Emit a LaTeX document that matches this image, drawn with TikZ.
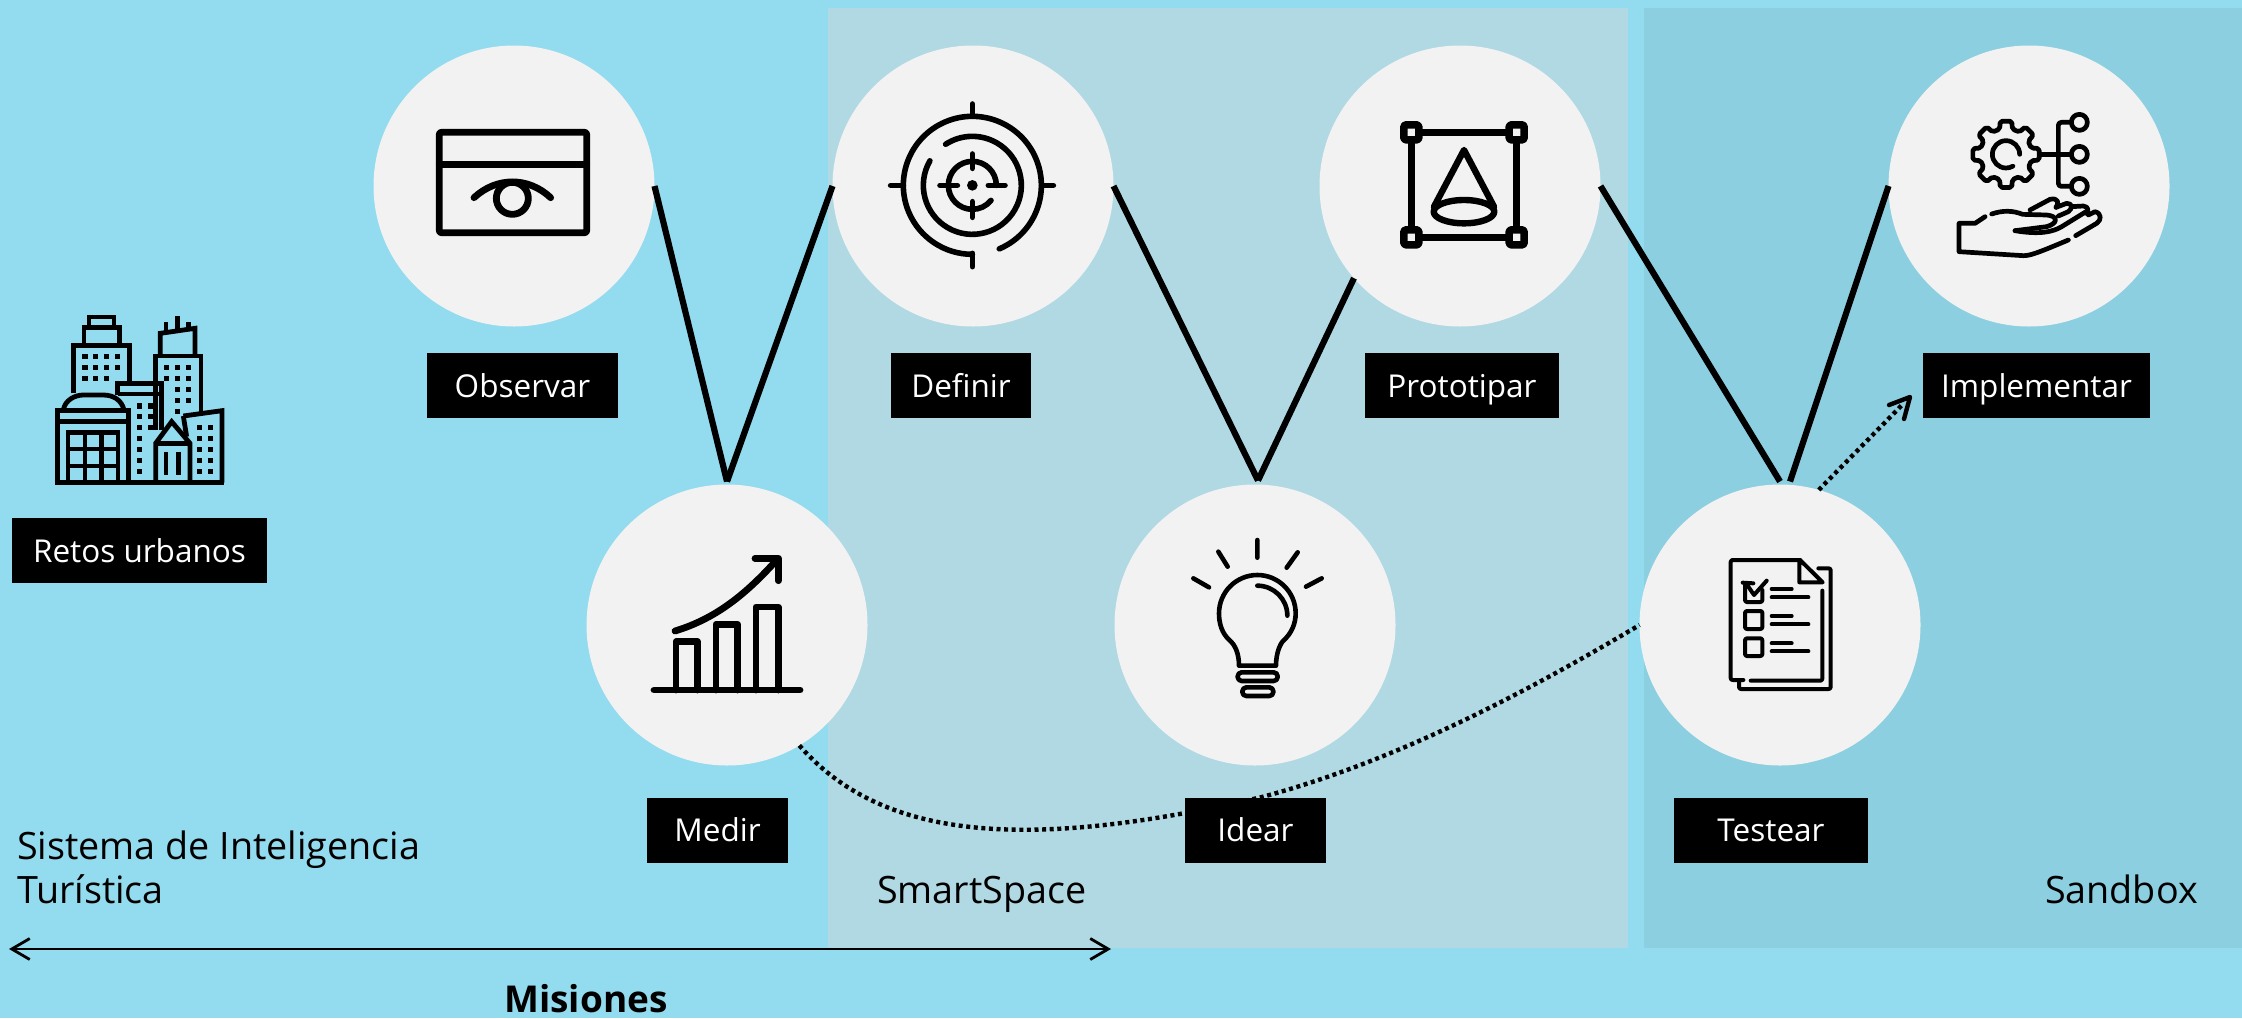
\documentclass[tikz,border=0pt]{standalone}
\usepackage{fontspec}
\setmainfont{Open Sans}
\usetikzlibrary{arrows.meta}
\definecolor{bgblue}{HTML}{93DBEE}
\definecolor{smartbg}{HTML}{B1D9E4}
\definecolor{sandbg}{HTML}{8CCFE0}
\definecolor{disc}{HTML}{F2F2F2}
\tikzset{
  stage/.style={circle,fill=disc,minimum size=281pt,inner sep=0pt,outer sep=0pt},
  lab/.style={fill=black,text=white,minimum height=65pt,text height=30pt,text depth=7pt,inner sep=0pt,outer sep=0pt,font=\fontsize{31.5}{36}\selectfont},
  captext/.style={text=black,inner sep=0pt,outer sep=0pt,font=\fontsize{37.7}{44}\selectfont},
  vline/.style={line width=6.2pt},
  dotline/.style={line width=4.4pt,dash pattern=on 4pt off 3.6pt},
  ico/.style={line width=#1,line cap=round,line join=round,draw=black},
  icon/.style={shift={#1},scale=0.33333},
  win/.style={fill=black,draw=none}
}
\begin{document}
\begin{tikzpicture}[x=1pt,y=1pt,yscale=-1]
\useasboundingbox (0,0) rectangle (2242,1018);
\fill[bgblue] (0,0) rectangle (2242,1018);
\fill[smartbg] (828,8) rectangle (1628,948);
\fill[sandbg] (1644,8) rectangle (2242,948);

% stages
\node[stage] (obs) at (514,186) {};
\node[stage] (def) at (973,186) {};
\node[stage] (pro) at (1460,186) {};
\node[stage] (imp) at (2029,186) {};
\node[stage] (med) at (727,625) {};
\node[stage] (ide) at (1255,625) {};
\node[stage] (tes) at (1780,625) {};

% connectors
\draw[vline] (obs.east) -- ([yshift=-3pt]med.north);
\draw[vline] (def.west) -- ([yshift=-3pt]med.north);
\draw[vline] (def.east) -- ([xshift=3pt,yshift=-4pt]ide.north);
\draw[vline] (pro.221) -- ([xshift=3pt,yshift=-4pt]ide.north);
\draw[vline] (pro.east) -- ([yshift=-3pt]tes.north);
\draw[vline] (imp.west) -- ([xshift=10pt,yshift=-3pt]tes.north);
\draw[dotline] (med.-59) .. controls (880,838) and (1020,853) .. (1262,797) .. controls (1400,760) and (1530,690) .. (tes.west);
\coordinate (tipimp) at (1910,397);
\draw[dotline] (tes.74) -- ([shift={(-7,7)}]tipimp);
\draw[line width=4.4pt,line cap=round,line join=round] (1889,405) -- (tipimp) -- (1904,419);
\coordinate (mleft) at (9,949);
\coordinate (mright) at (1111,949);
\draw[line width=2.8pt,{Straight Barb[length=18pt,width=21pt]}-{Straight Barb[length=18pt,width=21pt]}] (mleft) -- (mright);

% labels
\node[lab,minimum width=255pt] (lret) at (139.5,550.5) {Retos urbanos};
\node[lab,minimum width=191pt] (lobs) at (522.5,385.5) {Observar};
\node[lab,minimum width=140pt] (ldef) at (961,385.5) {Definir};
\node[lab,minimum width=194pt] (lpro) at (1462,385.5) {Prototipar};
\node[lab,minimum width=227pt] (limp) at (2036.5,385.5) {Implementar};
\node[lab,minimum width=141pt] (lmed) at (717.5,830) {Medir};
\node[lab,minimum width=141pt] (lide) at (1255.5,830) {Idear};
\node[lab,minimum width=194pt] (ltes) at (1771,830) {Testear};

\node[captext,anchor=base west,align=left] (tsis) at (17,903) {Sistema de Inteligencia\\Turística};
\node[captext,anchor=base west] (tsma) at (877,903) {SmartSpace};
\node[captext,anchor=base west] (tsan) at (2045,903) {Sandbox};
\node[captext,anchor=base,font=\fontsize{37}{44}\selectfont\bfseries] (tmis) at (586,1012) {Misiones};

% city
\begin{scope}[icon={(0,280)}]
\begin{scope}[ico=4.8pt,line cap=butt,line join=miter]
\draw (267,143) -- (267,111) -- (342,111) -- (342,143);
\draw (252,190) -- (252,143) -- (358,143) -- (358,190);
\draw (220,340) -- (220,197) -- (388,197) -- (388,310);
\draw (481,225) -- (481,160) -- (585,145) -- (585,225);
\draw (498,155) -- (498,125) (533,150) -- (533,108) (566,148) -- (566,125);
\draw (467,450) -- (467,228) -- (603,228) -- (603,398);
\draw (352,345) -- (352,310) -- (484,310) -- (484,450);
\draw (355,342) -- (478,342);
\draw (172,610) -- (172,392) -- (385,392) -- (385,610);
\draw (190,390) .. controls (195,360) and (225,345) .. (250,345) -- (310,345) .. controls (340,345) and (365,360) .. (372,390);
\draw (172,425) -- (385,425);
\draw (204,610) -- (204,458) -- (354,458) -- (354,610);
\draw (255,458) -- (255,610) (305,458) -- (305,610);
\draw (204,507) -- (354,507) (204,558) -- (354,558);
\draw (165,608) -- (672,608);
\draw (550,408) -- (666,392) -- (666,608);
\draw (550,408) -- (560,470);
\draw (467,608) -- (467,490) -- (515,425) -- (570,490) -- (570,608);
\draw (467,490) -- (570,490);
\draw (498,515) -- (498,585) (535,515) -- (535,585);
\end{scope}
\foreach \x in {255,287,320,352} \fill[win] (\x-8,222) rectangle ++(16,16);
\foreach \x in {255,287,320,352} \fill[win] (\x-8,255) rectangle ++(16,16);
\foreach \x in {255,287,320} \fill[win] (\x-8,288) rectangle ++(16,16);
\foreach \x in {500,533,566} \fill[win] (\x-8,255) rectangle ++(16,16);
\foreach \x in {500,533,566} \fill[win] (\x-8,288) rectangle ++(16,16);
\foreach \x in {533,566} \fill[win] (\x-8,320) rectangle ++(16,16);
\foreach \x in {533,566} \fill[win] (\x-8,353) rectangle ++(16,16);
\fill[win] (525,386) rectangle ++(16,16);
\foreach \y in {370,402,435} {\fill[win] (410,\y) rectangle ++(16,16); \fill[win] (443,\y) rectangle ++(16,16);}
\foreach \y in {468,501,534,567} \fill[win] (410,\y) rectangle ++(16,16);
\foreach \y in {435,468,501,534,567} {\fill[win] (590,\y) rectangle ++(16,16); \fill[win] (623,\y) rectangle ++(16,16);}
\end{scope}

% eye
\begin{scope}[icon={(400,80)}]
\draw[ico=6.8pt,rounded corners=2pt] (118,157) rectangle (560,458);
\draw[ico=6.8pt] (118,254) -- (560,254);
\draw[ico=6.8pt] (222,353) .. controls (290,290) and (385,290) .. (452,353);
\draw[ico=6.8pt] (337,355) circle[radius=48];
\end{scope}

% target
\begin{scope}[icon={(860,80)},ico=5.6pt]
\draw (337,316) ++(67:207) arc[start angle=67,end angle=-270,radius=207];
\draw (337,316) ++(-150:147) arc[start angle=-150,end angle=-483,radius=147];
\draw (337,316) ++(0:72) arc[start angle=0,end angle=-321,radius=72];
\draw (337,72) -- (337,105) (92,316) -- (130,316) (545,316) -- (580,316) (337,520) -- (337,560);
\draw (337,222) -- (337,265) (240,316) -- (292,316) (385,316) -- (435,316) (337,365) -- (337,412);
\fill (337,316) circle[radius=16];
\end{scope}

% prototype
\begin{scope}[icon={(1370,90)},ico=7.4pt]
\draw (124,127) rectangle (440,442);
\foreach \p in {(124,127),(440,127),(124,442),(440,442)}
  \draw[fill=disc,rounded corners=1.5pt,shift={\p}] (-22.5,-22.5) rectangle (22.5,22.5);
\draw[line width=6.4pt] (192,350) -- (282,180) -- (372,350);
\draw[line width=6.4pt] (282,365) ellipse[x radius=91,y radius=35];
\end{scope}

% gears and hand
\begin{scope}[icon={(1930,90)},ico=4.7pt]
\draw[shift={(228,193)},rounded corners=2pt] (-22.5:76) \foreach \a in {0,45,...,315} { -- (\a-14:78) -- (\a-10:101) -- (\a+10:101) -- (\a+14:78)} -- cycle;
\draw (269,193) arc[start angle=0,end angle=-300,radius=41];
\draw (335,193) -- (425,193);
\draw[rounded corners=3pt] (425,97) -- (385,97) -- (385,289) -- (425,289);
\draw (448,97) circle[radius=24] (448,193) circle[radius=24] (448,289) circle[radius=24];
\draw (165,380) -- (135,400) -- (87,400) -- (87,485) -- (280,497) .. controls (300,497) and (320,490) .. (415,450);
\draw (185,372) .. controls (220,360) and (250,362) .. (278,373) -- (350,375) .. controls (385,378) and (385,400) .. (350,410) -- (255,422);
\draw (255,422) .. controls (330,435) and (370,425) .. (395,410) -- (468,365);
\draw (300,360) -- (360,328) .. controls (385,322) and (388,340) .. (378,352);
\draw (378,352) -- (410,340) .. controls (428,340) and (428,355) .. (415,365) -- (385,378);
\draw (425,350) -- (460,348) .. controls (478,350) and (475,365) .. (468,370);
\draw (475,375) -- (495,365) .. controls (515,370) and (515,390) .. (500,400) -- (437,437);
\end{scope}

% chart
\begin{scope}[icon={(630,530)},ico=6.8pt]
\draw (72,480) -- (510,480);
\draw (138,480) -- (138,335) -- (202,335) -- (202,480);
\draw (258,480) -- (258,283) -- (323,283) -- (323,480);
\draw (378,480) -- (378,231) -- (445,231) -- (445,480);
\draw (135,303) .. controls (260,265) and (350,190) .. (440,90);
\draw (375,85) -- (445,85) -- (445,152);
\end{scope}

% bulb
\begin{scope}[icon={(1170,520)},ico=4.6pt]
\draw (262,60) -- (262,113) (145,95) -- (173,140) (350,143) -- (383,97) (70,175) -- (117,202) (408,200) -- (455,175);
\draw (207,437) .. controls (207,400) and (195,375) .. (180,362) .. controls (155,340) and (147,310) .. (147,280) arc[start angle=180,end angle=360,radius=115] .. controls (377,310) and (365,340) .. (340,362) .. controls (330,372) and (318,400) .. (318,437) -- cycle;
\draw (262,197) arc[start angle=-90,end angle=0,radius=90];
\draw[rounded corners=4pt] (203,457) rectangle (323,483);
\draw[rounded corners=4pt] (217,502) rectangle (310,528);
\end{scope}

% checklist
\begin{scope}[icon={(1700,540)},ico=4pt]
\draw[rounded corners=2pt] (130,420) -- (92,420) -- (92,60) -- (300,60);
\draw (300,60) -- (368,127) -- (298,127) -- (298,60);
\draw[rounded corners=2pt] (355,85) -- (392,85) -- (392,447) -- (117,447) -- (117,422);
\draw[rounded corners=2pt] (367,152) -- (367,422) -- (152,422);
\draw[rounded corners=2pt] (135,135) -- (135,186) -- (187,186) -- (187,150);
\draw (128,128) -- (160,130) (145,140) -- (162,165) -- (200,122);
\draw[rounded corners=2pt] (135,213) rectangle (187,267);
\draw[rounded corners=2pt] (135,295) rectangle (187,348);
\draw (215,147) -- (275,147) (215,172) -- (325,172) (215,228) -- (275,228) (215,253) -- (325,253) (215,310) -- (275,310) (215,334) -- (325,334);
\end{scope}
\end{tikzpicture}
\end{document}
